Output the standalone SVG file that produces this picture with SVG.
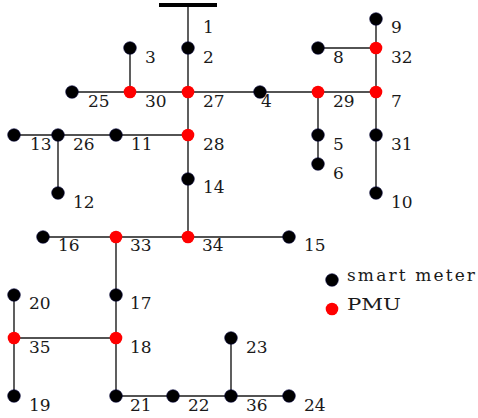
<svg xmlns="http://www.w3.org/2000/svg" width="478" height="418" viewBox="0 0 478 418">
<style>
.e{stroke:#1a1a1a;stroke-width:1.4;fill:none}
.m{fill:#000;stroke:#00003a;stroke-width:0.6}
.p{fill:#ff0000}
text{font-family:"DejaVu Serif","Liberation Serif",serif;font-size:17px;fill:#1a1a1a}
</style>
<rect width="478" height="418" fill="#fff"/>
<g id="connectors">
<line class="e" x1="188" y1="5" x2="188" y2="237"/>
<line class="e" x1="130" y1="48" x2="130" y2="92"/>
<line class="e" x1="72" y1="92" x2="376" y2="92"/>
<line class="e" x1="318" y1="92" x2="318" y2="164"/>
<line class="e" x1="376" y1="19" x2="376" y2="193"/>
<line class="e" x1="318" y1="48" x2="376" y2="48"/>
<line class="e" x1="14" y1="135" x2="188" y2="135"/>
<line class="e" x1="58" y1="135" x2="58" y2="193"/>
<line class="e" x1="43" y1="237" x2="289" y2="237"/>
<line class="e" x1="116" y1="237" x2="116" y2="396"/>
<line class="e" x1="14" y1="295" x2="14" y2="396"/>
<line class="e" x1="14" y1="338" x2="116" y2="338"/>
<line class="e" x1="116" y1="396" x2="289" y2="396"/>
<line class="e" x1="231" y1="338" x2="231" y2="396"/>
</g>
<g id="n1"><rect x="159" y="3" width="58" height="4" fill="#000"/><text x="203" y="33">1</text></g>
<g id="n2"><circle class="m" cx="188" cy="48" r="6.3"/><text x="203" y="63">2</text></g>
<g id="n3"><circle class="m" cx="130" cy="48" r="6.3"/><text x="145" y="63">3</text></g>
<g id="n25"><circle class="m" cx="72" cy="92" r="6.3"/><text x="88" y="107">25</text></g>
<g id="n30"><circle class="p" cx="130" cy="92" r="6.3"/><text x="145" y="107">30</text></g>
<g id="n27"><circle class="p" cx="188" cy="92" r="6.3"/><text x="203" y="107">27</text></g>
<g id="n4"><circle class="m" cx="260" cy="92" r="6.3"/><text x="261" y="107">4</text></g>
<g id="n29"><circle class="p" cx="318" cy="92" r="6.3"/><text x="333" y="107">29</text></g>
<g id="n7"><circle class="p" cx="376" cy="92" r="6.3"/><text x="391" y="107">7</text></g>
<g id="n8"><circle class="m" cx="318" cy="48" r="6.3"/><text x="333" y="63">8</text></g>
<g id="n32"><circle class="p" cx="376" cy="48" r="6.3"/><text x="391" y="63">32</text></g>
<g id="n9"><circle class="m" cx="376" cy="19" r="6.3"/><text x="391" y="33">9</text></g>
<g id="n5"><circle class="m" cx="318" cy="135" r="6.3"/><text x="333" y="150">5</text></g>
<g id="n6"><circle class="m" cx="318" cy="164" r="6.3"/><text x="333" y="179">6</text></g>
<g id="n31"><circle class="m" cx="376" cy="135" r="6.3"/><text x="391" y="150">31</text></g>
<g id="n10"><circle class="m" cx="376" cy="193" r="6.3"/><text x="391" y="208">10</text></g>
<g id="n13"><circle class="m" cx="14" cy="135" r="6.3"/><text x="30" y="150">13</text></g>
<g id="n26"><circle class="m" cx="58" cy="135" r="6.3"/><text x="73" y="150">26</text></g>
<g id="n11"><circle class="m" cx="116" cy="135" r="6.3"/><text x="131" y="150">11</text></g>
<g id="n28"><circle class="p" cx="188" cy="135" r="6.3"/><text x="203" y="150">28</text></g>
<g id="n12"><circle class="m" cx="58" cy="193" r="6.3"/><text x="73" y="208">12</text></g>
<g id="n14"><circle class="m" cx="188" cy="179" r="6.3"/><text x="203" y="193">14</text></g>
<g id="n16"><circle class="m" cx="43" cy="237" r="6.3"/><text x="58" y="251">16</text></g>
<g id="n33"><circle class="p" cx="116" cy="237" r="6.3"/><text x="130" y="251">33</text></g>
<g id="n34"><circle class="p" cx="188" cy="237" r="6.3"/><text x="202" y="251">34</text></g>
<g id="n15"><circle class="m" cx="289" cy="237" r="6.3"/><text x="304" y="251">15</text></g>
<g id="n20"><circle class="m" cx="14" cy="295" r="6.3"/><text x="29" y="309">20</text></g>
<g id="n17"><circle class="m" cx="116" cy="295" r="6.3"/><text x="130" y="309">17</text></g>
<g id="n35"><circle class="p" cx="14" cy="338" r="6.3"/><text x="29" y="353">35</text></g>
<g id="n18"><circle class="p" cx="116" cy="338" r="6.3"/><text x="130" y="353">18</text></g>
<g id="n19"><circle class="m" cx="14" cy="396" r="6.3"/><text x="29" y="411">19</text></g>
<g id="n21"><circle class="m" cx="116" cy="396" r="6.3"/><text x="130" y="411">21</text></g>
<g id="n22"><circle class="m" cx="173" cy="396" r="6.3"/><text x="188" y="411">22</text></g>
<g id="n23"><circle class="m" cx="231" cy="338" r="6.3"/><text x="246" y="353">23</text></g>
<g id="n36"><circle class="m" cx="231" cy="396" r="6.3"/><text x="246" y="411">36</text></g>
<g id="n24"><circle class="m" cx="289" cy="396" r="6.3"/><text x="304" y="411">24</text></g>
<g id="legend">
<circle class="m" cx="332" cy="280" r="6.3"/>
<text x="347" y="281" font-size="16" textLength="128">smart meter</text>
<circle class="p" cx="332" cy="309" r="6.3"/>
<text x="347" y="310" font-size="19" textLength="54" lengthAdjust="spacingAndGlyphs">PMU</text>
</g>
</svg>
